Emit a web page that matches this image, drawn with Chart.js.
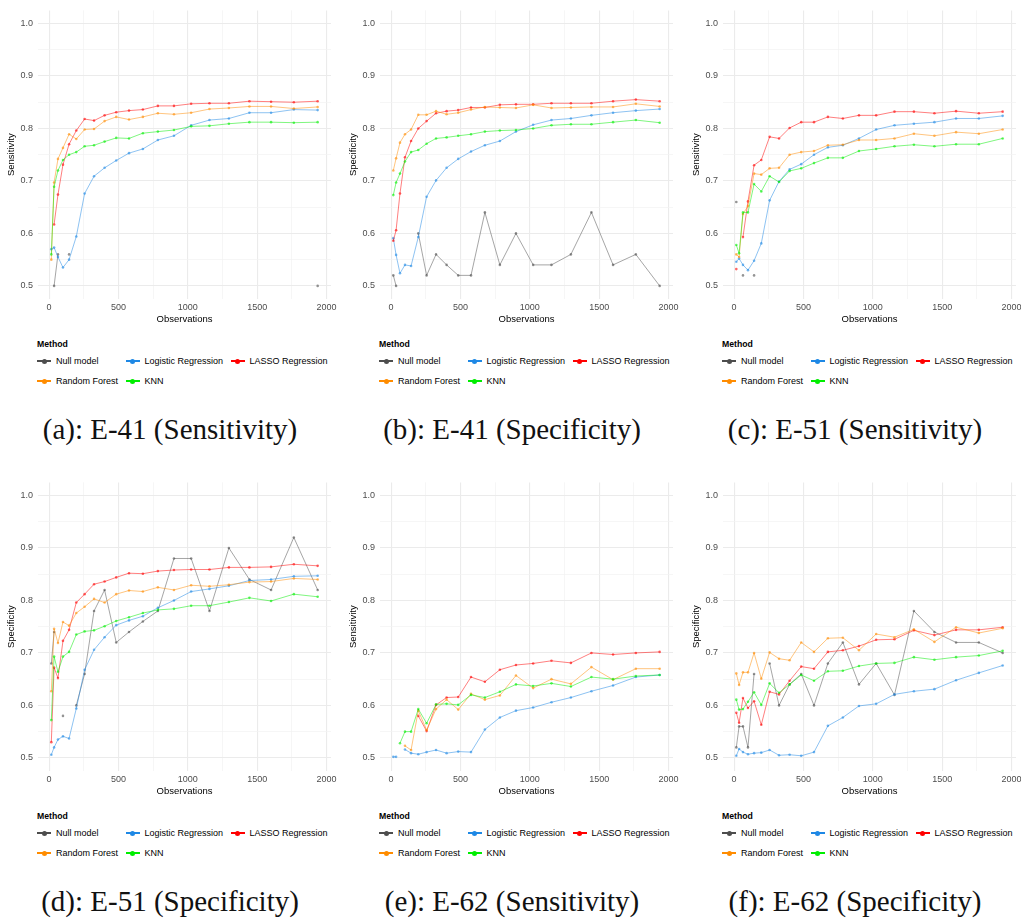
<!DOCTYPE html>
<html>
<head>
<meta charset="utf-8">
<script src="https://cdn.jsdelivr.net/npm/chart.js@4.4.0/dist/chart.umd.min.js"></script>
<style>
  body { margin: 0; background: #fff; width: 1021px; height: 918px; position: relative; overflow: hidden;
         font-family: "Liberation Sans", Arial, sans-serif; }
  .panel { position: absolute; width: 340px; height: 460px; }
  .panel canvas { position: absolute; left: 0; top: 0; }
  .legend { position: absolute; left: 37px; top: 338px; color: #000; }
  .legend .ltitle { font-weight: bold; font-size: 8.7px; line-height: 12px; height: 12px; }
  .legend .items { display: grid; grid-template-columns: auto auto auto; column-gap: 7.5px; margin-top: 1px; }
  .legend .item { display: flex; align-items: center; height: 20px; font-size: 9px; white-space: nowrap; }
  .legend .key { position: relative; width: 14px; height: 20px; margin-right: 5px; }
  .legend .key .ln { position: absolute; left: 0; right: 0; top: 9.3px; height: 1.5px; }
  .legend .key .dt { position: absolute; left: 4.5px; top: 7.5px; width: 5px; height: 5px; border-radius: 50%; }
  .caption { position: absolute; left: 0; width: 340px; top: 411px; text-align: center;
             font-family: "Liberation Serif", "Times New Roman", serif; font-size: 29px; line-height: 36px; color: #111; }
</style>
</head>
<body>
<script>
// observation counts on the x axis
const observations = [16, 36, 64, 100, 144, 196, 256, 324, 400, 484, 576, 676, 784, 900, 1024, 1156, 1296, 1444, 1600, 1764, 1936];
const xTicks = [0, 250, 500, 750, 1000, 1250, 1500, 1750, 2000];
const yTicks = [0.5, 0.55, 0.6, 0.65, 0.7, 0.75, 0.8, 0.85, 0.9, 0.95, 1.0];

const methods = ['Null model', 'Logistic Regression', 'LASSO Regression', 'Random Forest', 'KNN'];
const methodColors = ['#4d4d4d', '#1e88e5', '#ff0000', '#ff8c00', '#00ee00'];

// (a) E-41 Sensitivity
const aNull     = [null, 0.50, 0.56, null, 0.56, null, null, null, null, null, null, null, null, null, null, null, null, null, null, null, 0.50];
const aLogistic = [0.570, 0.573, 0.555, 0.535, 0.550, 0.594, 0.676, 0.709, 0.725, 0.739, 0.753, 0.761, 0.778, 0.786, 0.806, 0.816, 0.819, 0.830, 0.830, 0.836, 0.835];
const aLasso    = [null, 0.617, 0.674, 0.731, 0.770, 0.796, 0.818, 0.815, 0.825, 0.831, 0.834, 0.836, 0.843, 0.843, 0.847, 0.848, 0.848, 0.852, 0.851, 0.850, 0.852];
const aForest   = [0.550, 0.697, 0.742, 0.763, 0.789, 0.780, 0.798, 0.799, 0.814, 0.822, 0.817, 0.822, 0.829, 0.827, 0.830, 0.837, 0.839, 0.842, 0.842, 0.838, 0.841];
const aKnn      = [0.560, 0.689, 0.720, 0.740, 0.750, 0.755, 0.766, 0.768, 0.775, 0.782, 0.781, 0.791, 0.794, 0.797, 0.804, 0.805, 0.809, 0.812, 0.812, 0.811, 0.812];

// (b) E-41 Specificity
const bNull     = [0.52, 0.50, null, null, null, 0.60, 0.52, 0.56, 0.54, 0.52, 0.52, 0.64, 0.54, 0.60, 0.54, 0.54, 0.56, 0.64, 0.54, 0.56, 0.50];
const bLogistic = [0.591, 0.559, 0.524, 0.540, 0.538, 0.593, 0.670, 0.701, 0.725, 0.742, 0.756, 0.768, 0.776, 0.794, 0.807, 0.816, 0.819, 0.825, 0.830, 0.834, 0.837];
const bLasso    = [0.586, 0.606, 0.676, 0.745, 0.776, 0.800, 0.814, 0.829, 0.833, 0.835, 0.840, 0.840, 0.845, 0.846, 0.846, 0.848, 0.848, 0.848, 0.852, 0.855, 0.852];
const bForest   = [0.720, 0.743, 0.773, 0.789, 0.798, 0.826, 0.826, 0.833, 0.827, 0.830, 0.836, 0.841, 0.840, 0.839, 0.845, 0.839, 0.840, 0.841, 0.841, 0.847, 0.842];
const bKnn      = [0.673, 0.697, 0.714, 0.737, 0.755, 0.759, 0.771, 0.781, 0.783, 0.786, 0.789, 0.794, 0.796, 0.797, 0.800, 0.806, 0.808, 0.808, 0.812, 0.816, 0.811];

// (c) E-51 Sensitivity
const cNull     = [0.66, null, 0.52, null, 0.52, null, null, null, null, null, null, null, null, null, null, null, null, null, null, null, null];
const cLogistic = [0.546, 0.552, 0.540, 0.530, 0.548, 0.581, 0.663, 0.699, 0.722, 0.732, 0.750, 0.764, 0.768, 0.781, 0.798, 0.806, 0.809, 0.812, 0.819, 0.819, 0.824];
const cLasso    = [0.532, null, 0.593, 0.661, 0.730, 0.740, 0.784, 0.781, 0.801, 0.812, 0.812, 0.822, 0.819, 0.825, 0.825, 0.832, 0.832, 0.829, 0.833, 0.829, 0.832];
const cForest   = [0.560, 0.555, 0.637, 0.652, 0.714, 0.712, 0.724, 0.725, 0.750, 0.755, 0.757, 0.768, 0.769, 0.778, 0.778, 0.781, 0.790, 0.786, 0.793, 0.790, 0.798];
const cKnn      = [0.578, 0.562, 0.640, 0.640, 0.694, 0.680, 0.709, 0.698, 0.719, 0.724, 0.734, 0.744, 0.744, 0.757, 0.761, 0.766, 0.769, 0.766, 0.770, 0.770, 0.781];

// (d) E-51 Specificity
const dNull     = [0.68, 0.74, null, 0.58, null, 0.60, 0.66, 0.78, 0.82, 0.72, 0.74, 0.76, 0.78, 0.88, 0.88, 0.78, 0.90, 0.84, 0.82, 0.92, 0.82];
const dLogistic = [0.506, 0.520, 0.535, 0.541, 0.537, 0.594, 0.668, 0.706, 0.730, 0.753, 0.762, 0.770, 0.786, 0.800, 0.817, 0.822, 0.828, 0.838, 0.840, 0.846, 0.847];
const dLasso    = [0.530, 0.672, 0.652, 0.723, 0.744, 0.796, 0.812, 0.831, 0.836, 0.844, 0.852, 0.851, 0.856, 0.858, 0.859, 0.859, 0.863, 0.863, 0.864, 0.869, 0.866];
const dForest   = [0.627, 0.746, 0.719, 0.759, 0.752, 0.776, 0.788, 0.803, 0.796, 0.812, 0.819, 0.817, 0.825, 0.820, 0.829, 0.827, 0.830, 0.835, 0.836, 0.842, 0.840];
const dKnn      = [0.572, 0.693, 0.664, 0.693, 0.702, 0.735, 0.741, 0.743, 0.751, 0.761, 0.768, 0.776, 0.782, 0.784, 0.790, 0.790, 0.797, 0.805, 0.799, 0.812, 0.807];

// (e) E-62 Sensitivity
const eNull     = [null, null, null, null, null, null, null, null, null, null, null, null, null, null, null, null, null, null, null, null, null];
const eLogistic = [0.502, 0.502, null, 0.516, 0.509, 0.507, 0.511, 0.515, 0.509, 0.512, 0.511, 0.554, 0.577, 0.590, 0.596, 0.606, 0.615, 0.627, 0.638, 0.654, 0.658];
const eLasso    = [null, null, null, null, null, 0.580, 0.551, 0.601, 0.615, 0.616, 0.654, 0.645, 0.668, 0.677, 0.680, 0.685, 0.681, 0.700, 0.697, 0.700, 0.702];
const eForest   = [null, null, null, 0.523, 0.515, 0.590, 0.553, 0.593, 0.611, 0.592, 0.622, 0.611, 0.619, 0.657, 0.633, 0.650, 0.641, 0.673, 0.649, 0.670, 0.670];
const eKnn      = [null, null, 0.528, 0.550, 0.550, 0.593, 0.566, 0.602, 0.603, 0.601, 0.620, 0.615, 0.626, 0.640, 0.637, 0.642, 0.636, 0.654, 0.650, 0.656, 0.658];

// (f) E-62 Specificity
const fNull     = [0.52, 0.56, 0.56, 0.52, 0.66, null, 0.68, 0.60, 0.64, 0.66, 0.60, 0.68, 0.72, 0.64, 0.68, 0.62, 0.78, 0.74, 0.72, 0.72, 0.70];
const fLogistic = [0.504, 0.517, 0.511, 0.507, 0.509, 0.510, 0.515, 0.505, 0.506, 0.504, 0.511, 0.561, 0.577, 0.599, 0.603, 0.621, 0.627, 0.631, 0.648, 0.662, 0.676];
const fLasso    = [0.586, 0.567, 0.614, 0.595, 0.608, 0.563, 0.626, 0.621, 0.647, 0.674, 0.670, 0.702, 0.705, 0.713, 0.725, 0.726, 0.743, 0.734, 0.744, 0.744, 0.749];
const fForest   = [0.661, 0.639, 0.663, 0.663, 0.700, 0.651, 0.701, 0.689, 0.686, 0.720, 0.702, 0.728, 0.729, 0.705, 0.736, 0.730, 0.745, 0.721, 0.749, 0.738, 0.747];
const fKnn      = [0.611, 0.592, 0.593, 0.607, 0.625, 0.601, 0.642, 0.624, 0.640, 0.658, 0.647, 0.665, 0.666, 0.675, 0.680, 0.681, 0.692, 0.687, 0.692, 0.695, 0.704];

const panels = [
  { left: 0,   top: 0,   yTitle: 'Sensitivity', caption: '(a): E-41 (Sensitivity)', series: [aNull, aLogistic, aLasso, aForest, aKnn] },
  { left: 342, top: 0,   yTitle: 'Specificity', caption: '(b): E-41 (Specificity)', series: [bNull, bLogistic, bLasso, bForest, bKnn] },
  { left: 685, top: 0,   yTitle: 'Sensitivity', caption: '(c): E-51 (Sensitivity)', series: [cNull, cLogistic, cLasso, cForest, cKnn] },
  { left: 0,   top: 472, yTitle: 'Specificity', caption: '(d): E-51 (Specificity)', series: [dNull, dLogistic, dLasso, dForest, dKnn] },
  { left: 342, top: 472, yTitle: 'Sensitivity', caption: '(e): E-62 (Sensitivity)', series: [eNull, eLogistic, eLasso, eForest, eKnn] },
  { left: 685, top: 472, yTitle: 'Specificity', caption: '(f): E-62 (Specificity)', series: [fNull, fLogistic, fLasso, fForest, fKnn] }
];

// hex colour + alpha -> rgba string
function fade(hex, a) {
  const n = parseInt(hex.slice(1), 16);
  return `rgba(${(n >> 16) & 255}, ${(n >> 8) & 255}, ${n & 255}, ${a})`;
}

const majorGrid = '#ebebeb';
const minorGrid = '#f2f2f2';

function buildLegend(parent) {
  const lg = document.createElement('div');
  lg.className = 'legend';
  lg.innerHTML = '<div class="ltitle">Method</div>';
  const items = document.createElement('div');
  items.className = 'items';
  methods.forEach((m, i) => {
    const it = document.createElement('div');
    it.className = 'item';
    it.innerHTML = `<span class="key"><span class="ln" style="background:${methodColors[i]}"></span>` +
                   `<span class="dt" style="background:${methodColors[i]}"></span></span>${m}`;
    items.appendChild(it);
  });
  lg.appendChild(items);
  parent.appendChild(lg);
}

panels.forEach(p => {
  const div = document.createElement('div');
  div.className = 'panel';
  div.style.left = p.left + 'px';
  div.style.top = p.top + 'px';
  const canvas = document.createElement('canvas');
  canvas.width = 340;
  canvas.height = 330;
  div.appendChild(canvas);
  buildLegend(div);
  const cap = document.createElement('div');
  cap.className = 'caption';
  cap.textContent = p.caption;
  div.appendChild(cap);
  document.body.appendChild(div);

  new Chart(canvas, {
    type: 'line',
    data: {
      datasets: methods.map((m, i) => ({
        label: m,
        data: observations.map((x, j) => ({ x: x, y: p.series[i][j] })),
        borderColor: fade(methodColors[i], 0.5),
        backgroundColor: fade(methodColors[i], 0.6),
        pointBackgroundColor: fade(methodColors[i], 0.6),
        borderWidth: 1,
        pointRadius: 1.3,
        pointBorderWidth: 0,
        spanGaps: false,
        tension: 0,
        order: methods.length - i
      }))
    },
    options: {
      animation: false,
      responsive: false,
      devicePixelRatio: 1,
      layout: { padding: { top: 4, right: 9, left: 0, bottom: 0 } },
      plugins: { legend: { display: false }, tooltip: { enabled: false } },
      scales: {
        x: {
          type: 'linear',
          min: -80,
          max: 2032,
          afterBuildTicks: s => { s.ticks = xTicks.map(v => ({ value: v })); },
          afterFit: s => { s.height = 31; },
          border: { display: false },
          grid: {
            drawTicks: false,
            color: ctx => (ctx.tick && ctx.tick.value % 500 === 0) ? majorGrid : minorGrid,
            lineWidth: ctx => (ctx.tick && ctx.tick.value % 500 === 0) ? 1.1 : 0.7
          },
          ticks: {
            padding: 3,
            autoSkip: false,
            maxRotation: 0,
            color: '#4d4d4d',
            font: { family: 'Liberation Sans', size: 9 },
            callback: v => v % 500 === 0 ? String(v) : ''
          },
          title: {
            display: true, text: 'Observations', color: '#000',
            font: { family: 'Liberation Sans', size: 9.5 },
            padding: { top: 0, bottom: 5 }
          }
        },
        y: {
          type: 'linear',
          min: 0.475,
          max: 1.025,
          afterBuildTicks: s => { s.ticks = yTicks.map(v => ({ value: v })); },
          afterFit: s => { s.width = 38; },
          border: { display: false },
          grid: {
            drawTicks: false,
            color: ctx => (ctx.tick && Math.round(ctx.tick.value * 100) % 10 === 0) ? majorGrid : minorGrid,
            lineWidth: ctx => (ctx.tick && Math.round(ctx.tick.value * 100) % 10 === 0) ? 1.1 : 0.7
          },
          ticks: {
            padding: 5,
            autoSkip: false,
            color: '#4d4d4d',
            font: { family: 'Liberation Sans', size: 9 },
            callback: v => Math.round(v * 100) % 10 === 0 ? v.toFixed(1) : ''
          },
          title: {
            display: true, text: p.yTitle, color: '#000',
            font: { family: 'Liberation Sans', size: 9.5 },
            padding: { top: 6, bottom: 0 }
          }
        }
      }
    }
  });
});
</script>
</body>
</html>
